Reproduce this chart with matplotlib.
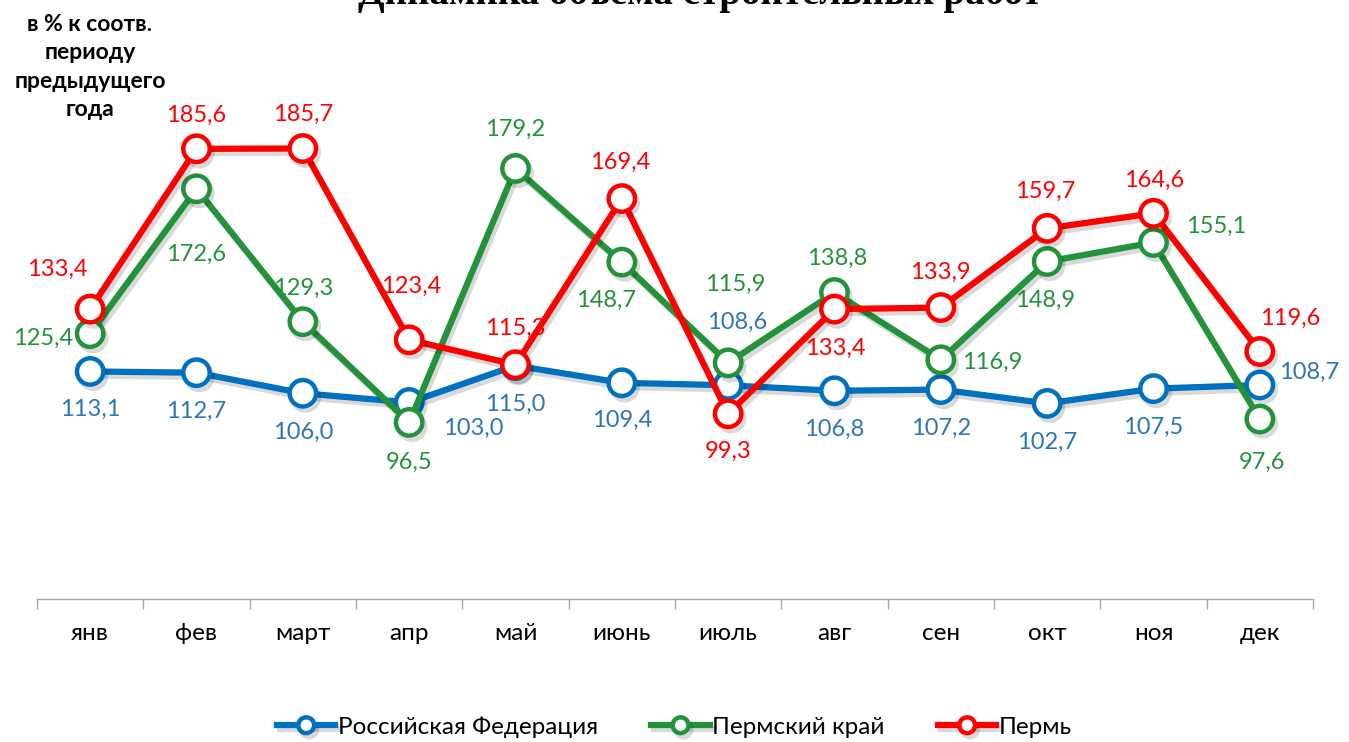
import matplotlib
matplotlib.use('Agg')
from matplotlib import pyplot as plt
import matplotlib.patheffects as pe

plt.rcParams['font.family'] = ['Lato', 'DejaVu Sans']

months = ['янв', 'фев', 'март', 'апр', 'май', 'июнь', 'июль', 'авг', 'сен', 'окт', 'ноя', 'дек']
rf = [113.1, 112.7, 106.0, 103.0, 115.0, 109.4, 108.6, 106.8, 107.2, 102.7, 107.5, 108.7]
perm_krai = [125.4, 172.6, 129.3, 96.5, 179.2, 148.7, 115.9, 138.8, 116.9, 148.9, 155.1, 97.6]
perm = [133.4, 185.6, 185.7, 123.4, 115.3, 169.4, 99.3, 133.4, 133.9, 159.7, 164.6, 119.6]

# label offsets in pixels (dx, dy)
rf_off = [(0, -38), (0, -39), (0, -39), (64, -26), (0, -39), (0, -38), (9, 63),
          (0, -39), (0, -39), (0, -39), (0, -39), (49, 13)]
krai_off = [(-47, -5), (0, -66), (0, 33), (0, -40), (0, 39), (-16, -38), (7, 79),
            (3, 34), (51, -3), (-2, -39), (63, 16), (2, -43)]
perm_off = [(-33, 40), (0, 33), (0, 34), (2, 53), (0, 36), (-2, 36), (0, -38),
            (1, -39), (-1, 35), (-2, 37), (1, 33), (30, 33)]

fig = plt.figure(figsize=(13.49, 7.42), dpi=100)
ax = fig.add_axes([37 / 1349, 1 - 599 / 742, (1313 - 37) / 1349, 494.4 / 742])

x = list(range(len(months)))
series = [
    ('Российская Федерация', rf, '#0070C0', '#2E75B6', rf_off, 3),
    ('Пермский край', perm_krai, '#23923A', '#23923A', krai_off, 4),
    ('Пермь', perm, '#FF0000', '#FF0000', perm_off, 5),
]

shadow = [pe.SimpleLineShadow(offset=(2, -3), alpha=0.15, shadow_color='black'), pe.Normal()]

for name, vals, col, tcol, offs, z in series:
    ax.plot(x, vals, color=col, linewidth=4.5, marker='o', markersize=19,
            markerfacecolor='white', markeredgecolor=col, markeredgewidth=3.2,
            label=name, zorder=z, path_effects=shadow)
    for xi, v, (dx, dy) in zip(x, vals, offs):
        ax.annotate(f'{v:.1f}'.replace('.', ','), (xi, v), xytext=(dx, dy),
                    textcoords='offset pixels', ha='center', va='center',
                    color=tcol, fontsize=17, zorder=10)

ax.set_xlim(-0.5, 11.5)
ax.set_ylim(39, 200)
for s in ['top', 'left', 'right']:
    ax.spines[s].set_visible(False)
ax.spines['bottom'].set_color('#A6A6A6')
ax.spines['bottom'].set_linewidth(1)
ax.set_yticks([])
ax.set_xticks([i - 0.5 for i in range(13)])
ax.set_xticklabels([])
ax.tick_params(axis='x', which='major', length=7, color='#A6A6A6', width=1)
ax.set_xticks(x, minor=True)
ax.set_xticklabels(months, minor=True, fontsize=17.5)
ax.tick_params(axis='x', which='minor', length=0, pad=17)

fig.text(700 / 1349, 1 - 4 / 742, 'Динамика объема строительных работ', ha='center',
         va='baseline', fontsize=28, fontweight='bold', family='Liberation Serif')
fig.text(90 / 1349, 1 - 67 / 742, 'в % к соотв.\nпериоду\nпредыдущего\nгода', ha='center',
         va='center', fontsize=16.5, fontweight='bold', linespacing=1.45)

fig.legend(loc='center', bbox_to_anchor=(0.5, 1 - 727 / 742), ncol=3, frameon=False,
           fontsize=17.5, handlelength=2.4, markerscale=0.6, columnspacing=2.2, handletextpad=0.1)

fig.savefig('out.png', dpi=100)
